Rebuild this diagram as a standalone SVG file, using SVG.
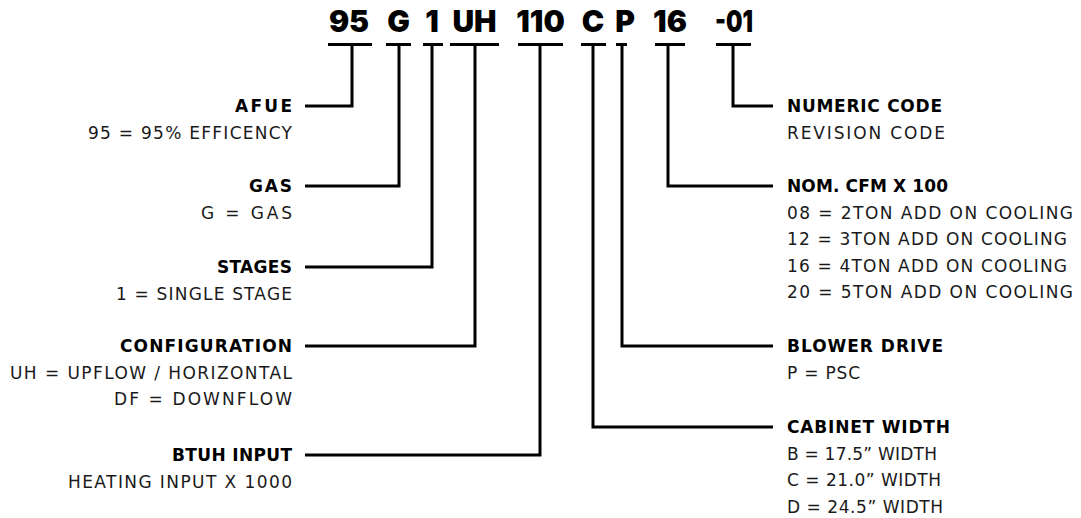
<svg xmlns="http://www.w3.org/2000/svg" width="1081" height="518" viewBox="0 0 1081 518">
<style>
.hdr{font-family:Inter,"DejaVu Sans",sans-serif;font-weight:900;font-size:30px;fill:#000;text-anchor:middle}
.b{font-family:"DejaVu Sans",sans-serif;font-weight:bold;font-size:17px;fill:#000}
.r{font-family:"DejaVu Sans",sans-serif;font-size:17px;fill:#1a1a1a}
.ln{fill:none;stroke:#000;stroke-width:3;stroke-linejoin:miter;stroke-linecap:butt}
</style>
<rect width="1081" height="518" fill="#fff"/>
<g id="header">
<text class="hdr" x="349" y="32">95</text>
<text class="hdr" x="398.5" y="32">G</text>
<text class="hdr" x="432" y="32">1</text>
<text class="hdr" x="474.5" y="32">UH</text>
<text class="hdr" x="540.5" y="32">110</text>
<text class="hdr" x="593" y="32">C</text>
<text class="hdr" x="625" y="32">P</text>
<text class="hdr" x="670" y="32">16</text>
<text class="hdr" x="734" y="32" textLength="38" lengthAdjust="spacingAndGlyphs">-01</text>
<path class="ln" d="M328,44.5H372M386,44.5H411M423,44.5H443M450,44.5H499M518,44.5H563M581,44.5H606M616,44.5H627M655,44.5H685M716,44.5H751"/>
</g>
<g id="connectors">
<path class="ln" d="M352,44.5V106H305"/>
<path class="ln" d="M399,44.5V186H305"/>
<path class="ln" d="M432,44.5V267H305"/>
<path class="ln" d="M475,44.5V346H305"/>
<path class="ln" d="M540,44.5V455H305"/>
<path class="ln" d="M733,44.5V106H773"/>
<path class="ln" d="M668,44.5V186H773"/>
<path class="ln" d="M622,44.5V346H773"/>
<path class="ln" d="M593,44.5V427H773"/>
</g>
<g id="afue">
<text class="b" x="235" y="112" textLength="57" lengthAdjust="spacing">AFUE</text>
<text class="r" x="88" y="138.5" textLength="204" lengthAdjust="spacing">95 = 95% EFFICENCY</text>
</g>
<g id="gas">
<text class="b" x="249" y="192" textLength="43" lengthAdjust="spacing">GAS</text>
<text class="r" x="201" y="218.5" textLength="91" lengthAdjust="spacing">G = GAS</text>
</g>
<g id="stages">
<text class="b" x="217" y="273" textLength="75" lengthAdjust="spacing">STAGES</text>
<text class="r" x="116" y="299.5" textLength="176" lengthAdjust="spacing">1 = SINGLE STAGE</text>
</g>
<g id="configuration">
<text class="b" x="120" y="352" textLength="172" lengthAdjust="spacing">CONFIGURATION</text>
<text class="r" x="10" y="378.5" textLength="282" lengthAdjust="spacing">UH = UPFLOW / HORIZONTAL</text>
<text class="r" x="114" y="405" textLength="178" lengthAdjust="spacing">DF = DOWNFLOW</text>
</g>
<g id="btuh">
<text class="b" x="172" y="461" textLength="120" lengthAdjust="spacing">BTUH INPUT</text>
<text class="r" x="68" y="487.5" textLength="224" lengthAdjust="spacing">HEATING INPUT X 1000</text>
</g>
<g id="numeric">
<text class="b" x="787" y="112" textLength="155" lengthAdjust="spacing">NUMERIC CODE</text>
<text class="r" x="787" y="138.5" textLength="158" lengthAdjust="spacing">REVISION CODE</text>
</g>
<g id="cfm">
<text class="b" x="787" y="192" textLength="161" lengthAdjust="spacing">NOM. CFM X 100</text>
<text class="r" x="787" y="218.5" textLength="286" lengthAdjust="spacing">08 = 2TON ADD ON COOLING</text>
<text class="r" x="787" y="245" textLength="280" lengthAdjust="spacing">12 = 3TON ADD ON COOLING</text>
<text class="r" x="787" y="271.5" textLength="280" lengthAdjust="spacing">16 = 4TON ADD ON COOLING</text>
<text class="r" x="787" y="298" textLength="286" lengthAdjust="spacing">20 = 5TON ADD ON COOLING</text>
</g>
<g id="blower">
<text class="b" x="787" y="352" textLength="156" lengthAdjust="spacing">BLOWER DRIVE</text>
<text class="r" x="787" y="378.5" textLength="73" lengthAdjust="spacing">P = PSC</text>
</g>
<g id="cabinet">
<text class="b" x="787" y="433" textLength="163" lengthAdjust="spacing">CABINET WIDTH</text>
<text class="r" x="787" y="459.5" textLength="150" lengthAdjust="spacing">B = 17.5” WIDTH</text>
<text class="r" x="787" y="486" textLength="154" lengthAdjust="spacing">C = 21.0” WIDTH</text>
<text class="r" x="787" y="512.5" textLength="156" lengthAdjust="spacing">D = 24.5” WIDTH</text>
</g>
</svg>
